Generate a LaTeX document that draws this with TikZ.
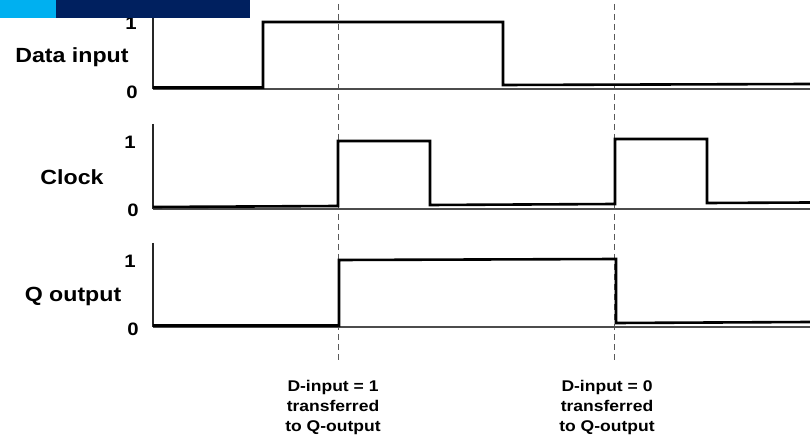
\documentclass[tikz,border=0pt]{standalone}
\usepackage{fontspec}
\setmainfont{Liberation Sans}[FakeStretch=1.13]
\definecolor{lightbar}{HTML}{00B0F0}
\definecolor{darkbar}{HTML}{00205F}
\begin{document}
\begin{tikzpicture}[x=1pt,y=-1pt,
  sig/.style={line width=2.6pt,line join=miter},
  axisline/.style={line width=1.5pt,black!85},
  base/.style={line width=1.3pt,black!70},
  guide/.style={line width=0.8pt,black!65,dash pattern=on 6pt off 4pt},
  signame/.style={font=\bfseries\fontsize{20.5}{24}\selectfont,inner sep=0pt},
  lvl/.style={font=\bfseries\fontsize{18}{22}\selectfont,inner sep=0pt},
  note/.style={font=\bfseries\fontsize{15.5}{20}\selectfont,align=center,inner sep=0pt}]
\useasboundingbox (0,0) rectangle (810,435);
\fill[white] (0,0) rectangle (810,435);

% guide lines
\coordinate (g1t) at (338,4); \coordinate (g1b) at (338,362);
\coordinate (g2t) at (614,4); \coordinate (g2b) at (614,362);
\draw[guide] (g1t) -- (g1b);
\draw[guide] (g2t) -- (g2b);

% Data input
\coordinate (da) at (153,16); \coordinate (do) at (153,89); \coordinate (de) at (810,89);
\draw[axisline] (da) -- (do);
\draw[base] (do) -- (de);
\draw[sig] (153,87.5) -- (263,87.5) -- (263,22) -- (503,22) -- (503,85) -- (810,84);
\node[signame] (ldata) at (72,57) {Data input};
\node[lvl] (d1) at (131,23) {1};
\node[lvl] (d0) at (132,92) {0};

% Clock
\coordinate (ca) at (153,124); \coordinate (co) at (153,209); \coordinate (ce) at (810,209);
\draw[axisline] (ca) -- (co);
\draw[base] (co) -- (ce);
\draw[sig] (153,207) -- (338,206) -- (338,141) -- (430,141) -- (430,205) -- (615,204)
  -- (615,139) -- (707,139) -- (707,203) -- (810,202.5);
\node[lvl] (c1) at (130,142) {1};
\node[lvl] (c0) at (133,210) {0};
\node[signame] (lclock) at (72,177) {Clock};

% Q output
\coordinate (qa) at (153,243); \coordinate (qo) at (153,327); \coordinate (qe) at (810,327);
\draw[axisline] (qa) -- (qo);
\draw[base] (qo) -- (qe);
\draw[sig] (153,325.5) -- (339,325.5) -- (339,260) -- (616,259) -- (616,323) -- (810,322);
\node[lvl] (q1) at (130,261) {1};
\node[lvl] (q0) at (133,329) {0};
\node[signame] (lq) at (73,296) {Q output};

% notes
\node[note] (n1) at (333,407) {D-input = 1\\transferred\\to Q-output};
\node[note] (n2) at (607,407) {D-input = 0\\transferred\\to Q-output};

% header bars
\fill[lightbar] (0,0) rectangle (56,18);
\fill[darkbar] (56,0) rectangle (250,18);
\end{tikzpicture}
\end{document}
